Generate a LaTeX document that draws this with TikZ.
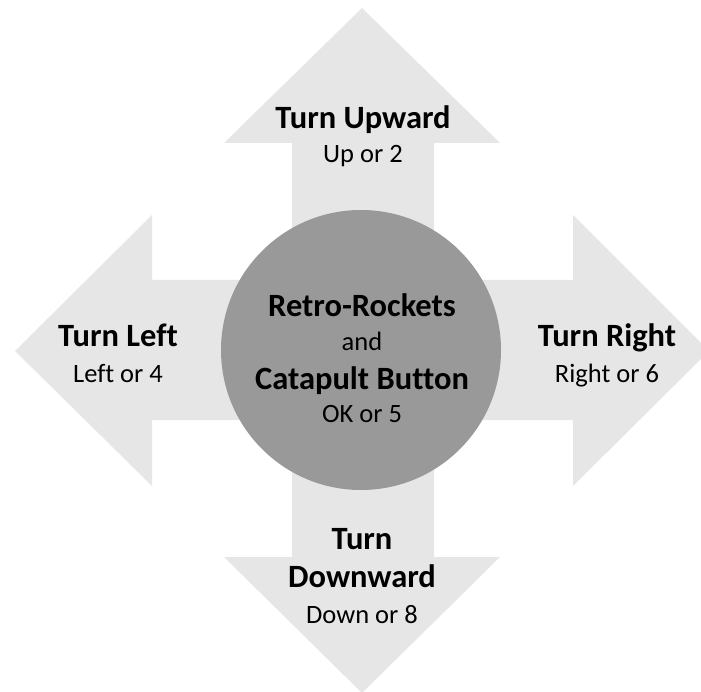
\documentclass[tikz,border=0pt]{standalone}
\usepackage{fontspec}
\setmainfont{Carlito}[Ligatures=NoCommon]
\usetikzlibrary{positioning}
\definecolor{ArmGray}{HTML}{E6E6E6}
\definecolor{HubGray}{HTML}{999999}
\tikzset{
  arm/.style={fill=ArmGray,draw=none},
  hub/.style={circle,fill=HubGray,draw=none,minimum size=280pt,inner sep=0pt},
  title/.style={font=\fontsize{32.5}{38}\selectfont\bfseries,anchor=base,inner sep=0pt},
  keys/.style={font=\fontsize{26.5}{31}\selectfont,anchor=base,inner sep=0pt},
}
\begin{document}
\begin{tikzpicture}[x=1pt,y=-1pt]
  \path[use as bounding box] (0,0) rectangle (701,692);
  % the four arms
  \fill[arm] (292,362) -- (292,143) -- (224,143) -- (362,8) -- (500,143) -- (434,143) -- (434,362) -- cycle;
  \fill[arm] (292,340) -- (292,557) -- (224,557) -- (362,693) -- (500,557) -- (434,557) -- (434,340) -- cycle;
  \fill[arm] (372,280) -- (152,280) -- (152,215) -- (15,351) -- (152,486) -- (152,420) -- (372,420) -- cycle;
  \fill[arm] (352,280) -- (573,280) -- (573,215) -- (709,351) -- (573,486) -- (573,420) -- (352,420) -- cycle;
  % centre button
  \node[hub] (btn) at (361,350) {};
  \node[title] (btnA) at (362,317) {Retro-Rockets};
  \node[keys] (btnB) at (362,351) {and};
  \node[title] (btnC) at (362,389) {Catapult Button};
  \node[keys] (btnD) at (362,422) {OK or 5};
  % labels
  \node[title] (upT) at (363,129) {Turn Upward};
  \node[keys] (upK) at (363,163) {Up or 2};
  \node[title] (lfT) at (118,347) {Turn Left};
  \node[keys] (lfK) at (118,382) {Left or 4};
  \node[title] (rtT) at (607,347) {Turn Right};
  \node[keys] (rtK) at (607,382) {Right or 6};
  \node[title] (dnT) at (362,549) {Turn};
  \node[title] (dnU) at (362,587) {Downward};
  \node[keys] (dnK) at (362,623) {Down or 8};
\end{tikzpicture}
\end{document}
